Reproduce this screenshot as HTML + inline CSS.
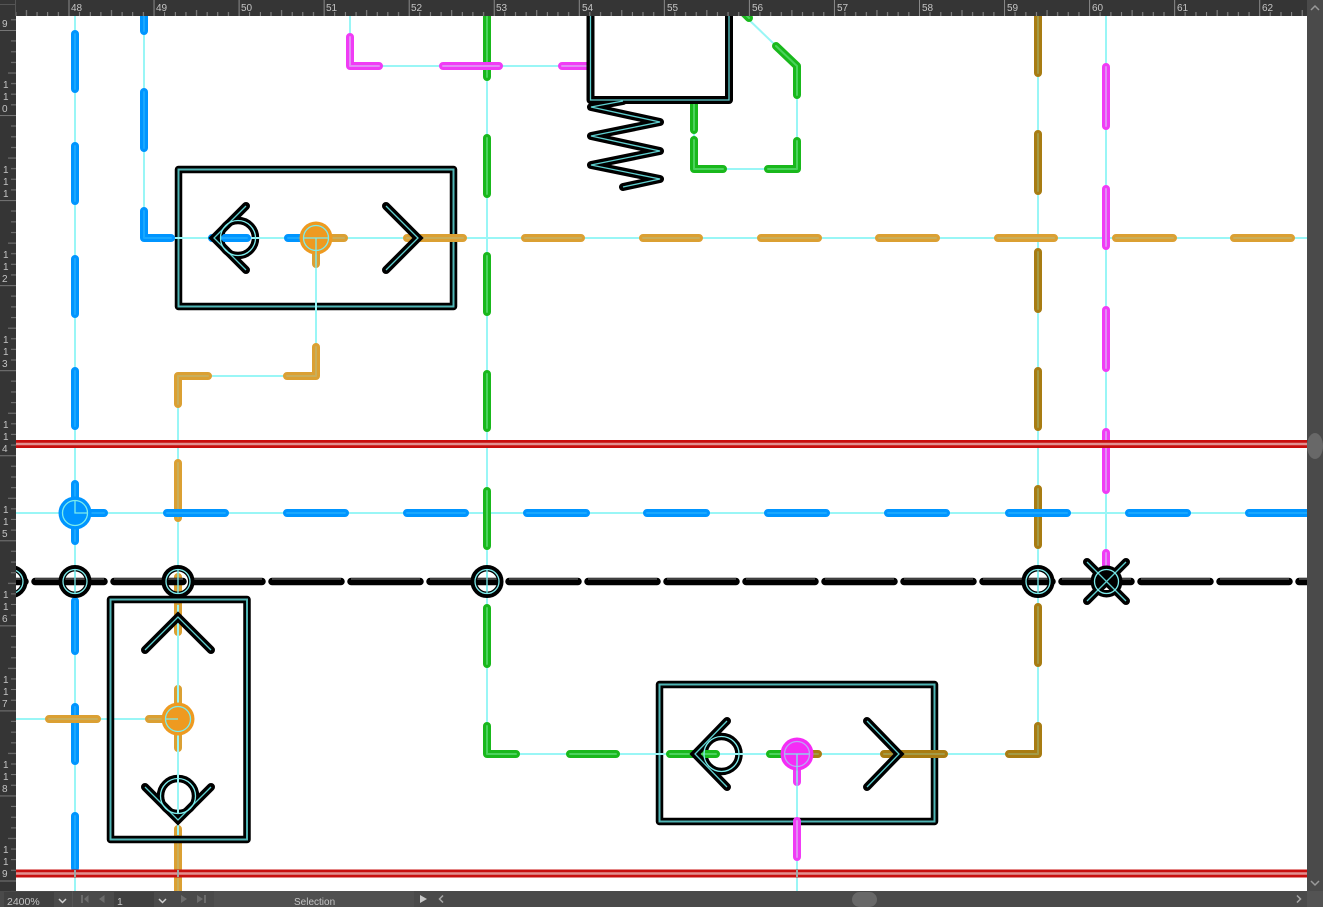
<!DOCTYPE html>
<html><head><meta charset="utf-8"><title>Diagram</title>
<style>
html,body{margin:0;padding:0;background:#fff;width:1323px;height:907px;overflow:hidden}
svg{display:block;position:absolute;left:0;top:0}
text{font-family:"Liberation Sans",sans-serif;fill:#c4c4c4}
</style></head><body>
<svg width="1323" height="907" viewBox="0 0 1323 907" xmlns="http://www.w3.org/2000/svg">
<defs>
<pattern id="tt" patternUnits="userSpaceOnUse" x="68.5" y="0" width="85.05" height="16">
<path d="M.5 0V16" stroke="#8a8a8a" fill="none"/>
<path d="M11 12V16M21.8 12V16M32.4 12V16M53.6 12V16M64.2 12V16M74.9 12V16" stroke="#8a8a8a" fill="none"/>
<path d="M43 10V16" stroke="#8a8a8a" fill="none"/>
</pattern>
<pattern id="tl" patternUnits="userSpaceOnUse" x="0" y="30" width="16" height="85.05">
<path d="M0 .5H16" stroke="#777" fill="none"/>
<path d="M11 11H16M11 21.8H16M11 32.4H16M11 53.6H16M11 64.2H16M11 74.9H16M8 43H16" stroke="#777" fill="none"/>
</pattern>
<path id="bv" d="M75 34V89M75 146V201M75 259V314M75 371V426M75 484V541M75 601V651M75 707V761M75 816V868"/>
<path id="o" d="M178 404V376H208M287 376H316V347M178 463V518M178 577V632M178 689V748M178 829V891M316 238V264M316 238H344M407 238H463M525 238H581M643 238H699M761 238H818M879 238H936M998 238H1054M1116 238H1173M1234 238H1291M49 719H97M149 719H178"/>
<path id="br" d="M1038 12V73M1038 134V191M1038 252V309M1038 371V427M1038 489V545M1038 607V663M1038 726V754H1009M944 754H884M818 754H797"/>
<path id="g" d="M487 12V77M487 138V194M487 256V312M487 374V428M487 491V546M487 608V664M487 726V754H516M570 754H616M670 754H716M770 754H797M694 100V130M694 140V169H723M768 169H797V141M797 95V66L776 46M749 18L743 12"/>
<path id="m" d="M350 37V66H379M443 66H499M562 66H590M1106 67V126M1106 189V246M1106 310V368M1106 432V490M1106 553V575M797 754V782M797 821V857"/>
<path id="b" d="M144 12V31M144 92V148M144 211V238H171M212 238H247M288 238H316M75 513H104M167 513H225M287 513H345M407 513H465M527 513H586M647 513H706M768 513H826M888 513H946M1009 513H1067M1129 513H1187M1249 513H1311"/>
<path id="bus" d="M-44 581.500H1320"/>
<path id="chev" d="M246 206L214 238L246 270M386 206L418 238L386 270M145 650L178 617L211 650M145 787L178 820L211 787M727 721L695 754L727 787M867 721L899 754L867 787"/>
<path id="blk" d="M590.500 12V100H729V12M623 101L591 107L660 122L591 136L660 151L591 165L660 179L623 187M1087 562L1126 601M1126 562L1087 601"/>
</defs>

<rect x="16" y="16" width="1291" height="875" fill="#fff"/>

<!-- boxes 1 and 3 -->
<g fill="none" stroke="#000" stroke-width="7.500" stroke-linejoin="round">
<rect x="178.500" y="169.500" width="275" height="137"/>
<rect x="659.500" y="684.500" width="275" height="137"/>
</g>
<g fill="none" stroke="#4fb5b5" stroke-width="2">
<rect x="178.500" y="169.500" width="275" height="137"/>
<rect x="659.500" y="684.500" width="275" height="137"/>
</g>
<!-- circles under wires -->
<g fill="#fff" stroke="#000" stroke-width="7.500">
<circle cx="238" cy="238" r="17.500"/>
<circle cx="721.500" cy="754" r="17.500"/>
<circle cx="178" cy="796" r="17.500"/>
</g>

<!-- construction lines -->
<g fill="none" stroke="#99f6f6" stroke-width="2">
<path d="M75 16V891M144 16V238H316V376H178V891M350 16V66H590M487 16V754H1038V16M1106 16V581M16 513H1307M16 719H178M178 238H1307M797 754V891M694 100V169H797V66L745 16"/>
</g>

<!-- coloured wires -->
<g fill="none" stroke-width="8" stroke-linecap="round" stroke-linejoin="round">
<use href="#bv" stroke="#0095ff"/><use href="#bv" stroke="#19a8ff" stroke-width="2"/>
<use href="#o" stroke="#dba033"/><use href="#o" stroke="#c9ae5a" stroke-width="2"/>
<use href="#br" stroke="#a87c12"/><use href="#br" stroke="#a39a45" stroke-width="2"/>
<use href="#g" stroke="#19b81c"/><use href="#g" stroke="#4ad25c" stroke-width="2"/>
<use href="#m" stroke="#f03cf5"/><use href="#m" stroke="#e28cf5" stroke-width="2"/>
<use href="#b" stroke="#0095ff"/><use href="#b" stroke="#19a8ff" stroke-width="2"/>
</g>

<!-- box 2 -->
<rect x="110.500" y="599.500" width="136.500" height="240" fill="none" stroke="#000" stroke-width="7.500" stroke-linejoin="round"/>
<rect x="110.500" y="599.500" width="136.500" height="240" fill="none" stroke="#4fb5b5" stroke-width="2"/>
<path d="M178 605V835" stroke="#99f6f6" stroke-width="2" fill="none"/>

<!-- bus -->
<use href="#bus" fill="none" stroke="#000" stroke-width="7.500" stroke-linecap="round" stroke-dasharray="69 10"/>
<path d="M-44 579H1320" stroke="#555" stroke-width="1.500" stroke-dasharray="69 10" fill="none"/>

<!-- bus circles -->
<g fill="none" stroke="#000" stroke-width="6.500">
<circle cx="11" cy="581.500" r="13.300"/>
<circle cx="75" cy="581.500" r="13.300"/>
<circle cx="178" cy="581.500" r="13.300"/>
<circle cx="487" cy="581.500" r="13.300"/>
<circle cx="1038" cy="581.500" r="13.300"/>
</g>
<circle cx="1106.500" cy="581.500" r="16" fill="#000"/>
<path d="M1106.500 581.500L1099 590H1114Z" fill="#fff"/>

<!-- nodes -->
<circle cx="75" cy="513" r="16.500" fill="#0095ff"/>
<circle cx="316" cy="238" r="16.500" fill="#ee9a20"/>
<circle cx="178" cy="719" r="16.500" fill="#ee9a20"/>
<circle cx="797" cy="754" r="16.500" fill="#f52cf5"/>

<!-- black symbols -->
<use href="#blk" fill="none" stroke="#000" stroke-width="8" stroke-linecap="round" stroke-linejoin="round"/>
<use href="#chev" fill="none" stroke="#000" stroke-width="8" stroke-linecap="round" stroke-linejoin="miter"/>

<!-- red -->
<g fill="none">
<path d="M16 444H1307M16 873.500H1307" stroke="#c80f0f" stroke-width="8"/>
<path d="M16 444H1307M16 873.500H1307" stroke="#e29090" stroke-width="2.500"/>
<path d="M75 870V877M178 870V877M797 870V877" stroke="#9aa8a8" stroke-width="2"/>
</g>

<!-- teal overlays -->
<use href="#blk" fill="none" stroke="#5fd0d0" stroke-width="1.300"/>
<use href="#chev" fill="none" stroke="#5fd0d0" stroke-width="1.300"/>
<g fill="none" stroke="#7cecec" stroke-width="1.300">
<circle cx="238" cy="238" r="17.500"/>
<circle cx="721.500" cy="754" r="17.500"/>
<circle cx="178" cy="796" r="17.500"/>
<circle cx="11" cy="581.500" r="12"/>
<circle cx="75" cy="581.500" r="12"/>
<circle cx="178" cy="581.500" r="12"/>
<circle cx="487" cy="581.500" r="12"/>
<circle cx="1038" cy="581.500" r="12"/>
<circle cx="1106.500" cy="581.500" r="12"/>
<circle cx="75" cy="513" r="12.500"/>
<circle cx="316" cy="238" r="12.500"/>
<circle cx="178" cy="719" r="12.500"/>
<circle cx="797" cy="754" r="12.500" stroke="#b9a8f5"/>
<path d="M75 569V594M178 569V594M487 569V594M1038 569V594"/>
<path d="M75 500V513H88M316 238V268M304 238H328M165 719H178M797 754V786M785 754H809"/>
</g>

<!-- rulers -->
<rect x="0" y="0" width="1323" height="16" fill="#353535"/>
<rect x="16" y="0" width="1291" height="16" fill="url(#tt)"/>
<rect x="0" y="16" width="16" height="875" fill="#353535"/>
<rect x="0" y="16" width="16" height="875" fill="url(#tl)"/>
<rect x="0" y="0" width="16" height="16" fill="#353535"/>
<path d="M15.500 0V16M0 4.500H16" stroke="#555" fill="none"/>
<g font-size="10">
<text x="71" y="11">48</text><text x="156" y="11">49</text><text x="241" y="11">50</text><text x="326" y="11">51</text><text x="411" y="11">52</text><text x="496" y="11">53</text><text x="582" y="11">54</text><text x="667" y="11">55</text><text x="752" y="11">56</text><text x="837" y="11">57</text><text x="922" y="11">58</text><text x="1007" y="11">59</text><text x="1092" y="11">60</text><text x="1177" y="11">61</text><text x="1262" y="11">62</text>
<text x="2" y="27">9</text>
<text x="3" y="88">1</text><text x="3" y="100">1</text><text x="2" y="112">0</text>
<text x="3" y="173">1</text><text x="3" y="185">1</text><text x="3" y="197">1</text>
<text x="3" y="258">1</text><text x="3" y="270">1</text><text x="2" y="282">2</text>
<text x="3" y="343">1</text><text x="3" y="355">1</text><text x="2" y="367">3</text>
<text x="3" y="428">1</text><text x="3" y="440">1</text><text x="2" y="452">4</text>
<text x="3" y="513">1</text><text x="3" y="525">1</text><text x="2" y="537">5</text>
<text x="3" y="598">1</text><text x="3" y="610">1</text><text x="2" y="622">6</text>
<text x="3" y="683">1</text><text x="3" y="695">1</text><text x="2" y="707">7</text>
<text x="3" y="768">1</text><text x="3" y="780">1</text><text x="2" y="792">8</text>
<text x="3" y="853">1</text><text x="3" y="865">1</text><text x="2" y="877">9</text>
</g>

<!-- right scrollbar -->
<rect x="1307" y="0" width="16" height="907" fill="#4a4a4a"/>
<path d="M1311 10L1315 6L1319 10" stroke="#9a9a9a" stroke-width="1.500" fill="none"/>
<path d="M1311 881L1315 885L1319 881" stroke="#9a9a9a" stroke-width="1.500" fill="none"/>
<ellipse cx="1315" cy="446" rx="8" ry="13" fill="#686868"/>

<!-- bottom bar -->
<rect x="0" y="891" width="1307" height="16" fill="#4a4a4a"/>
<rect x="1307" y="891" width="16" height="16" fill="#535353"/>
<rect x="4" y="892" width="50" height="15" fill="#404040"/>
<rect x="114" y="892" width="40" height="15" fill="#404040"/>
<rect x="72" y="891" width="1" height="16" fill="#555"/>
<rect x="214" y="891" width="200" height="16" fill="#505050"/>
<g font-size="10.500">
<text x="7" y="905">2400%</text>
<text x="117" y="905">1</text>
<text x="294" y="905" font-size="10" fill="#b5b5b5">Selection</text>
</g>
<path d="M59 899L62.500 902.500L66 899M159 899L162.500 902.500L166 899" stroke="#d0d0d0" stroke-width="1.500" fill="none"/>
<g fill="#6c6c6c">
<path d="M81 895H83V903H81ZM88.500 895V903L84 899ZM104.500 895V903L99 899ZM181 895L187 899L181 903ZM197 895L203 899L197 903ZM204 895H206V903H204Z"/>
</g>
<path d="M420 895L427 899L420 903Z" fill="#c8c8c8"/>
<path d="M443 895.500L439.500 899L443 902.500M1297 895.500L1300.500 899L1297 902.500" stroke="#a8a8a8" stroke-width="1.500" fill="none"/>
<rect x="852" y="892" width="25" height="15" rx="7.500" fill="#686868"/>
</svg>
</body></html>
